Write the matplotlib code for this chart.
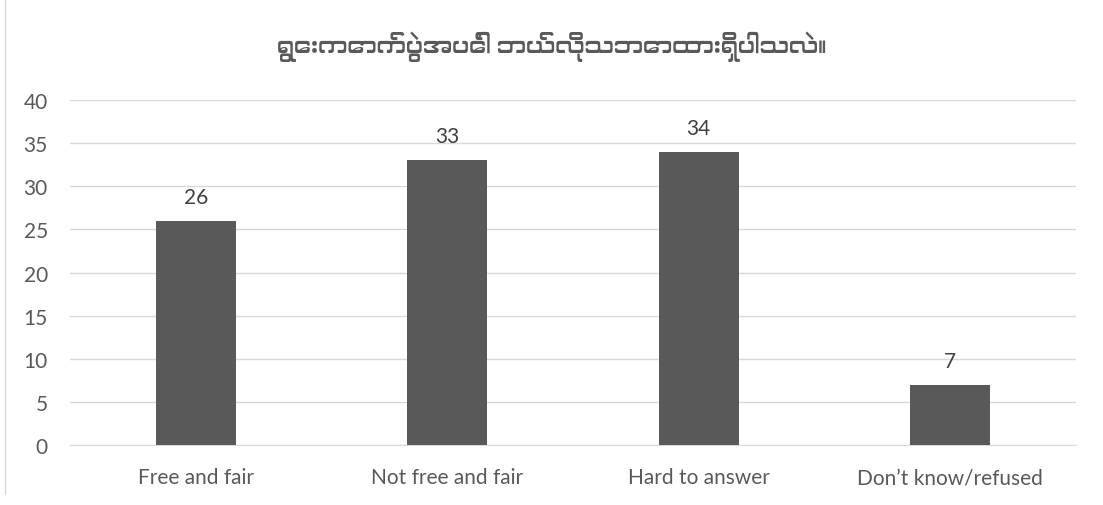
import matplotlib
matplotlib.use("Agg")
import matplotlib.pyplot as plt
from matplotlib import font_manager
from matplotlib.lines import Line2D

categories = ["Free and fair", "Not free and fair", "Hard to answer", "Don\u2019t know/refused"]
values = [26, 33, 34, 7]
yTicks = [0, 5, 10, 15, 20, 25, 30, 35, 40]
title = "ရွေးကောက်ပွဲအပေါ် ဘယ်လိုသဘောထားရှိပါသလဲ။"

# look for any installed font with Myanmar glyphs (regular weight first), else fall back
myanmarFonts = [f for f in font_manager.fontManager.ttflist
                if any(k in f.name for k in ("Myanmar", "Padauk", "Pyidaungsu"))]
myanmarFonts.sort(key=lambda f: abs(f.weight - 400) if isinstance(f.weight, int) else 500)
titleFamilies = [f.name for f in myanmarFonts[:1]] + ["DejaVu Sans"]

textColor = "#595959"
plt.rcParams["font.family"] = ["Lato", "DejaVu Sans"]

fig = plt.figure(figsize=(11.03, 5.06), dpi=100)
ax = fig.add_axes([70 / 1103, 1 - 446 / 506, 1006 / 1103, 345 / 506])

x = range(len(categories))
bars = ax.bar(x, values, width=0.32, color="#595959", zorder=3)
for xi, v in zip(x, values):
    ax.annotate(str(v), (xi, v), xytext=(0, 10), textcoords="offset points",
                ha="center", va="bottom", fontsize=15, color="#404040")

ax.set_xlim(-0.5, len(categories) - 0.5)
ax.set_ylim(0, 40)
ax.set_yticks(yTicks)
ax.set_xticks(list(x))
ax.set_xticklabels(categories)
ax.tick_params(axis="both", length=0, labelsize=15, labelcolor=textColor)
ax.tick_params(axis="y", pad=16)
ax.tick_params(axis="x", pad=16)
ax.grid(axis="y", color="#d9d9d9", linewidth=1, zorder=0)
for s in ["top", "right", "left"]:
    ax.spines[s].set_visible(False)
ax.spines["bottom"].set_color("#d9d9d9")

fig.text(0.5, 1 - 47 / 506, title, ha="center", va="center", fontsize=17,
         color=textColor, family=titleFamilies, weight="normal")

# chart frame edge on the left
fig.add_artist(Line2D([5 / 1103, 5 / 1103], [11 / 506, 1], color="#d9d9d9", linewidth=1))

fig.savefig("out.png", dpi=100)
